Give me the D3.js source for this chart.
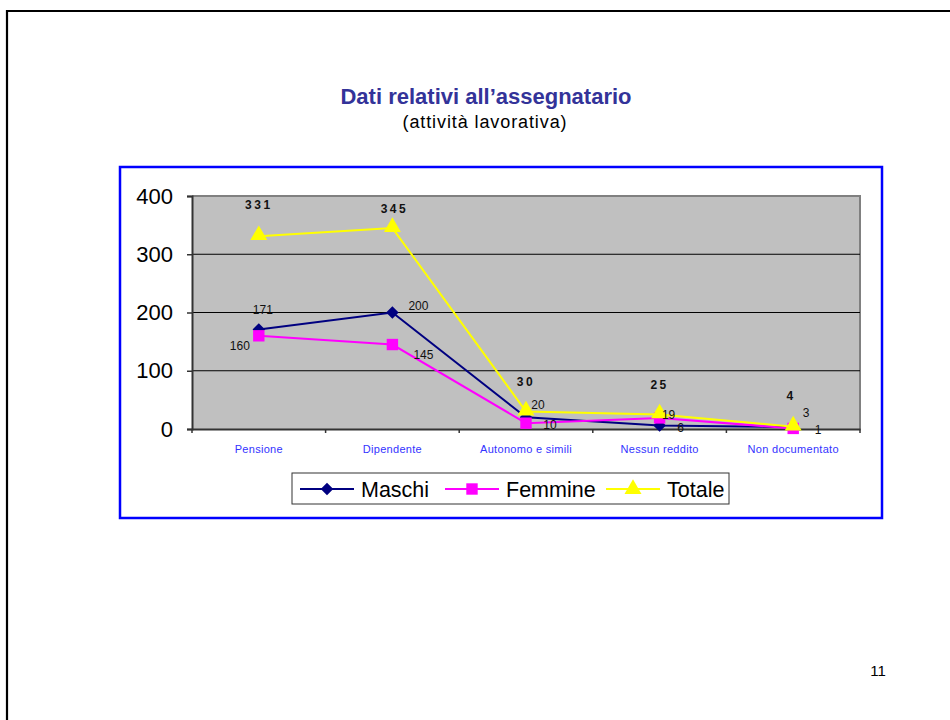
<!DOCTYPE html>
<html>
<head>
<meta charset="utf-8">
<script src="https://cdn.jsdelivr.net/npm/d3@7"></script>
<style>
  html, body { margin: 0; padding: 0; background: #fff; }
  svg { display: block; font-family: Arial, "Liberation Sans", sans-serif; }
</style>
</head>
<body>
<svg id="slide" width="950" height="720"></svg>
<script>
// Categories of working activity
const categories = ["Pensione", "Dipendente", "Autonomo e simili", "Nessun reddito", "Non documentato"];
// Series values
const maschi  = [171, 200, 20, 6, 3];
const femmine = [160, 145, 10, 19, 1];
const totale  = [331, 345, 30, 25, 4];
// Axis ticks
const yTicks = [0, 100, 200, 300, 400];
const seriesNames = ["Maschi", "Femmine", "Totale"];

// Label nudges for each point (layout only)
const labelNudge = {
  Maschi:  [[4, -20], [26, -7], [12, -13], [21, 2], [13, -14]],
  Femmine: [[-19, 10], [31, 10], [24, 2], [9, -3], [25, 1]],
  Totale:  [[0, -31], [2, -19], [0, -30], [0, -30], [-2, -31]]
};

const svg = d3.select("#slide");

// Slide frame
svg.append("path").attr("d", "M7,730 V11 H960").attr("fill", "none")
  .attr("stroke", "#000").attr("stroke-width", 2.2);

// Titles
svg.append("text").attr("x", 486).attr("y", 104).attr("text-anchor", "middle")
  .attr("font-size", 22).attr("font-weight", "bold").attr("fill", "#333399")
  .text("Dati relativi all\u2019assegnatario");
svg.append("text").attr("x", 485).attr("y", 128).attr("text-anchor", "middle")
  .attr("font-size", 18).attr("letter-spacing", 0.9).attr("fill", "#000")
  .text("(attività lavorativa)");

// Page number
svg.append("text").attr("x", 878).attr("y", 676).attr("text-anchor", "middle")
  .attr("font-size", 15).attr("fill", "#000").text("11");

// Chart frame
svg.append("rect").attr("x", 120).attr("y", 167).attr("width", 762).attr("height", 351)
  .attr("fill", "#fff").attr("stroke", "#0000FF").attr("stroke-width", 2.5);

const plot = { left: 192, right: 860, top: 196, bottom: 429 };

const x = d3.scaleBand().domain(categories).range([plot.left, plot.right]).padding(0);
const y = d3.scaleLinear().domain([0, 400]).range([plot.bottom, plot.top]);
const cx = c => x(c) + x.bandwidth() / 2;

// Plot area
svg.append("rect").attr("x", plot.left).attr("y", plot.top)
  .attr("width", plot.right - plot.left).attr("height", plot.bottom - plot.top)
  .attr("fill", "#C0C0C0");
// Plot border (top and right)
svg.append("path")
  .attr("d", `M${plot.left},${plot.top} H${plot.right} V${plot.bottom}`)
  .attr("fill", "none").attr("stroke", "#808080").attr("stroke-width", 2);

// Gridlines
svg.append("g").selectAll("line").data(yTicks.filter(t => t > 0 && t < 400)).join("line")
  .attr("x1", plot.left).attr("x2", plot.right)
  .attr("y1", d => y(d)).attr("y2", d => y(d))
  .attr("stroke", "#000").attr("stroke-width", 1);

// Y axis
const yAxis = svg.append("g").attr("transform", `translate(${plot.left},0)`)
  .call(d3.axisLeft(y).tickValues(yTicks).tickSize(5).tickPadding(14).tickFormat(d3.format("d")));
yAxis.select(".domain").attr("stroke", "#333").attr("stroke-width", 2);
yAxis.selectAll(".tick line").attr("stroke", "#333").attr("stroke-width", 1.5);
yAxis.selectAll(".tick text").attr("font-size", 22).attr("fill", "#000")
  .attr("font-family", "Arial, 'Liberation Sans', sans-serif");

// X axis
const xAxis = svg.append("g").attr("transform", `translate(0,${plot.bottom})`)
  .call(d3.axisBottom(x).tickSize(0).tickPadding(16));
xAxis.select(".domain").attr("stroke", "#333").attr("stroke-width", 2);
xAxis.selectAll(".tick text").attr("font-size", 11).attr("fill", "#3333FF")
  .attr("font-family", "Arial, 'Liberation Sans', sans-serif")
  .attr("letter-spacing", 0.3);
// Category separators
svg.append("g").selectAll("line").data(categories.map(c => x(c)).concat([plot.right])).join("line")
  .attr("x1", d => d).attr("x2", d => d)
  .attr("y1", plot.bottom).attr("y2", plot.bottom + 4)
  .attr("stroke", "#333").attr("stroke-width", 1.5);

const series = [
  { name: "Maschi",  values: maschi,  color: "#000080", symbol: d3.symbolDiamond2, size: 100, fill: "#000080" },
  { name: "Femmine", values: femmine, color: "#FF00FF", symbol: d3.symbolSquare,   size: 130, fill: "#FF00FF" },
  { name: "Totale",  values: totale,  color: "#FFFF00", symbol: d3.symbolTriangle, size: 125, fill: "#FFFF00" }
];

const line = d3.line().x((d, i) => cx(categories[i])).y(d => y(d));

series.forEach(s => {
  const g = svg.append("g");
  g.append("path").datum(s.values).attr("d", line)
    .attr("fill", "none").attr("stroke", s.color).attr("stroke-width", 2);
  g.selectAll("path.m").data(s.values).join("path").attr("class", "m")
    .attr("d", d3.symbol().type(s.symbol).size(s.size))
    .attr("transform", (d, i) => {
      const yy = y(d) - (s.symbol === d3.symbolTriangle ? 1 : 0);
      return `translate(${cx(categories[i])},${yy})`;
    })
    .attr("fill", s.fill);
});

// Data labels
series.forEach(s => {
  const bold = s.name === "Totale";
  svg.append("g").selectAll("text").data(s.values).join("text")
    .attr("x", (d, i) => cx(categories[i]) + labelNudge[s.name][i][0])
    .attr("y", (d, i) => y(d) + labelNudge[s.name][i][1])
    .attr("dy", "0.35em")
    .attr("text-anchor", "middle")
    .attr("font-size", 12)
    .attr("font-weight", bold ? "bold" : "normal")
    .attr("letter-spacing", bold ? 2.5 : 0)
    .attr("fill", "#111")
    .text(d => d);
});

// Legend
const lg = svg.append("g");
lg.append("rect").attr("x", 292).attr("y", 473).attr("width", 437).attr("height", 31)
  .attr("fill", "#fff").attr("stroke", "#333").attr("stroke-width", 1);
const legendX = [300, 445, 606];
series.forEach((s, i) => {
  const lx = legendX[i], ly = 489;
  lg.append("line").attr("x1", lx).attr("x2", lx + 54).attr("y1", ly).attr("y2", ly)
    .attr("stroke", s.color).attr("stroke-width", 2);
  lg.append("path").attr("d", d3.symbol().type(s.symbol).size(s.size)())
    .attr("transform", `translate(${lx + 27},${ly})`).attr("fill", s.fill);
  lg.append("text").attr("x", lx + 61).attr("y", ly).attr("dy", "0.35em")
    .attr("font-size", 21.5).attr("fill", "#000").text(s.name);
});
</script>
</body>
</html>
